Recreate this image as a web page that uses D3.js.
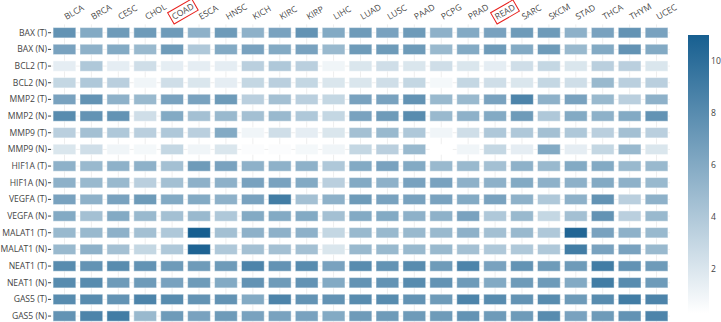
<!DOCTYPE html>
<html>
<head>
<meta charset="utf-8">
<script src="https://cdn.jsdelivr.net/npm/d3@7"></script>
<style>
  body { margin: 0; background: #fff; }
  svg text { font-family: "Open Sans", "DejaVu Sans", sans-serif; }
</style>
</head>
<body>
<div id="chart"></div>
<script>
// cancer types (columns)
const cancers = ['BLCA', 'BRCA', 'CESC', 'CHOL', 'COAD', 'ESCA', 'HNSC', 'KICH', 'KIRC', 'KIRP', 'LIHC', 'LUAD',
  'LUSC', 'PAAD', 'PCPG', 'PRAD', 'READ', 'SARC', 'SKCM', 'STAD', 'THCA', 'THYM', 'UCEC'];
const highlighted = ['COAD', 'READ'];

// genes (rows), top to bottom
const genes = ['BAX (T)', 'BAX (N)', 'BCL2 (T)', 'BCL2 (N)', 'MMP2 (T)', 'MMP2 (N)', 'MMP9 (T)', 'MMP9 (N)',
  'HIF1A (T)', 'HIF1A (N)', 'VEGFA (T)', 'VEGFA (N)', 'MALAT1 (T)', 'MALAT1 (N)', 'NEAT1 (T)', 'NEAT1 (N)',
  'GAS5 (T)', 'GAS5 (N)'];

// expression values, one array per row (order follows cancers)
const BAX_T = [7.5, 6, 7, 7, 7, 5.5, 7, 5.5, 6.5, 7.5, 6, 7, 6.5, 7, 5.5, 6, 6.5, 7, 7, 5.5, 6.5, 7.5, 6.5];
const BAX_N = [6.5, 5.5, 6, 5, 7, 4, 6, 6.5, 6, 6.5, 5, 7, 7, 7, 5, 6, 7, 6, 7, 5, 6, 7.5, 6];
const BCL2_T = [1.5, 4, 1.5, 2.5, 1.5, 1.5, 1.5, 3.5, 4, 3.5, 1, 2, 2.5, 2, 2.5, 2, 1.5, 2.5, 3, 2, 3.5, 3.5, 2];
const BCL2_N = [3, 4, 3.5, 1, 2.5, 2, 1.5, 3, 3.5, 3, 2, 2, 2.5, 3, 0.8, 3, 2.5, 2, 3, 2.5, 5, 3.5, 3.5];
const MMP2_T = [6.5, 7.5, 5.5, 5, 6.5, 6.5, 7, 3.5, 4.5, 3.5, 3, 6.5, 6.5, 7.5, 5, 5, 6.5, 8.5, 5.5, 6.5, 5, 3.5, 5.5];
const MMP2_N = [8, 7.5, 7.5, 2.5, 6, 4.5, 5, 4.5, 5, 4, 3, 6.5, 7, 8, 5, 5.5, 6, 7, 4, 6, 5.5, 6, 7.5];
const MMP9_T = [3.5, 4.5, 4, 3.5, 4, 3.5, 6, 1, 2.5, 1.5, 2, 4.5, 5, 4, 1, 2.5, 4, 4, 4.5, 4, 3.5, 4.5, 3.5];
const MMP9_N = [2, 2.5, 1, 0.8, 3, 1, 2, 0.5, 0.5, 0.8, 1, 3, 3.5, 5, 0.3, 1, 3, 1.5, 6, 1.5, 3, 5, 2];
const HIF1A_T = [5.5, 5, 5.5, 5.5, 4.5, 7, 6.5, 5.5, 5.5, 5.5, 4, 6, 6.5, 6, 5, 5, 4.5, 5.5, 5, 6, 6, 5, 5];
const HIF1A_N = [5.5, 5, 5, 3.5, 4.5, 5.5, 5.5, 6.5, 6.5, 6, 3.5, 6, 5.5, 6.5, 6.5, 5.5, 5.5, 6, 5.5, 5.5, 6, 5.5, 5];
const VEGFA_T = [6.5, 5.5, 6.5, 7, 6, 6, 5.5, 6.5, 9, 4.5, 5.5, 7, 6.5, 6.5, 6.5, 6, 6.5, 5.5, 4, 5.5, 7.5, 3.5, 5.5];
const VEGFA_N = [6, 4.5, 6, 5, 4.5, 5, 4, 6, 6, 6, 4.5, 6, 6, 5.5, 5.5, 6.5, 4, 5, 3, 4.5, 7.5, 3.5, 5];
const MALAT1_T = [5, 5, 5.5, 4.5, 4, 11, 4.5, 5.5, 5.5, 5.5, 3, 5, 5, 5, 5, 5.5, 4.5, 5, 4, 10.5, 6.5, 5.5, 5];
const MALAT1_N = [5, 5.5, 4.5, 3, 4, 10.7, 4, 4.5, 4.5, 4.5, 2, 5, 5, 5, 5, 4.5, 4, 4, 4, 9, 6.5, 6.5, 5];
const NEAT1_T = [8, 7.5, 8, 7.5, 7, 7, 7, 8.5, 7.5, 8, 6.5, 8, 7.5, 8, 7, 8.5, 6.5, 7.5, 7, 7, 9, 7.5, 7];
const NEAT1_N = [8, 8, 7, 7, 6.5, 7, 6, 7.5, 7, 7.5, 6, 7.5, 7.5, 8, 7.5, 7, 6, 7, 7, 6, 9, 8, 7];
const GAS5_T = [8, 8, 7.5, 8.5, 8, 7.5, 7.5, 6, 8.5, 7.5, 7.5, 8, 8, 7.5, 7, 8.5, 8, 7.5, 8, 7, 8, 9, 8.5];
const GAS5_N = [7.5, 8.5, 9, 5, 7, 6.5, 7, 6.5, 6.5, 6.5, 6, 7, 7, 7, 7, 7.5, 7, 7, 8, 6.5, 7, 7.5, 8.5];

const rowValues = [BAX_T, BAX_N, BCL2_T, BCL2_N, MMP2_T, MMP2_N, MMP9_T, MMP9_N, HIF1A_T, HIF1A_N,
  VEGFA_T, VEGFA_N, MALAT1_T, MALAT1_N, NEAT1_T, NEAT1_N, GAS5_T, GAS5_N];

const colorbarTicks = [2, 4, 6, 8, 10];

const W = 721, H = 322;
const plot = { left: 51, right: 670, top: 24.4, bottom: 324.4 };
const bar = { x: 688, w: 21, top: 35, bottom: 313 };

const cells = [];
rowValues.forEach((vals, i) => {
  vals.forEach((v, j) => cells.push({ gene: genes[i], cancer: cancers[j], value: v }));
});

const extent = d3.extent(cells, d => d.value);
const color = d3.scaleLinear().domain(extent).range(['#ffffff', '#175f90']).interpolate(d3.interpolateRgb);

const svg = d3.select('#chart').append('svg').attr('width', W).attr('height', H);

const x = d3.scaleBand().domain(cancers).range([plot.left, plot.right]).paddingInner(0);
const y = d3.scaleBand().domain(genes).range([plot.top, plot.bottom]).paddingInner(0);
const cellW = x.bandwidth() * 0.845;
const cellH = y.bandwidth() * 0.62;

// faint grid
svg.append('g').selectAll('line').data(cancers).join('line')
  .attr('x1', d => x(d) + x.bandwidth() / 2).attr('x2', d => x(d) + x.bandwidth() / 2)
  .attr('y1', plot.top).attr('y2', plot.bottom)
  .attr('stroke', '#eeeeee').attr('stroke-width', 1);
svg.append('g').selectAll('line').data(genes).join('line')
  .attr('x1', plot.left).attr('x2', plot.right)
  .attr('y1', d => y(d) + y.bandwidth() / 2).attr('y2', d => y(d) + y.bandwidth() / 2)
  .attr('stroke', '#eeeeee').attr('stroke-width', 1);

// cells
svg.append('g').selectAll('rect').data(cells).join('rect')
  .attr('x', d => x(d.cancer) + (x.bandwidth() - cellW) / 2)
  .attr('y', d => y(d.gene) + (y.bandwidth() - cellH) / 2)
  .attr('width', cellW)
  .attr('height', cellH)
  .attr('fill', d => color(d.value))
  .attr('stroke', 'rgba(255,255,255,0.45)')
  .attr('stroke-width', 1);

// y axis labels with small tick marks
const yAxis = svg.append('g');
genes.forEach(g => {
  const cy = y(g) + y.bandwidth() / 2;
  yAxis.append('line').attr('x1', plot.left - 3).attr('x2', plot.left).attr('y1', cy).attr('y2', cy)
    .attr('stroke', '#444').attr('stroke-width', 1);
  yAxis.append('text').attr('x', plot.left - 4).attr('y', cy).attr('dy', '0.35em')
    .attr('text-anchor', 'end').attr('font-size', 8.6).attr('fill', '#444').text(g);
});

// x axis labels on top, rotated
const xAxis = svg.append('g');
cancers.forEach(c => {
  const g = xAxis.append('g')
    .attr('transform', `translate(${x(c) + x.bandwidth() / 2 + 2},20) rotate(-30)`);
  const t = g.append('text').attr('x', 0).attr('y', 0)
    .attr('font-size', 8.6).attr('fill', '#444').text(c);
  if (highlighted.includes(c)) {
    const bb = t.node().getBBox();
    g.append('rect')
      .attr('x', bb.x - 2).attr('y', bb.y - 0.5)
      .attr('width', bb.width + 4).attr('height', bb.height + 1)
      .attr('fill', 'none').attr('stroke', '#e8201c').attr('stroke-width', 1);
  }
});

// colorbar
const defs = svg.append('defs');
const grad = defs.append('linearGradient').attr('id', 'cbar')
  .attr('x1', 0).attr('y1', 1).attr('x2', 0).attr('y2', 0);
grad.append('stop').attr('offset', '0%').attr('stop-color', color(extent[0]));
grad.append('stop').attr('offset', '100%').attr('stop-color', color(extent[1]));

svg.append('rect')
  .attr('x', bar.x).attr('y', bar.top)
  .attr('width', bar.w).attr('height', bar.bottom - bar.top)
  .attr('fill', 'url(#cbar)');

const cy = d3.scaleLinear().domain(extent).range([bar.bottom, bar.top]);
svg.append('g').selectAll('text').data(colorbarTicks).join('text')
  .attr('x', bar.x + bar.w + 2)
  .attr('y', d => cy(d))
  .attr('dy', '0.35em')
  .attr('font-size', 8.6).attr('fill', '#444')
  .text(d => d);
</script>
</body>
</html>
